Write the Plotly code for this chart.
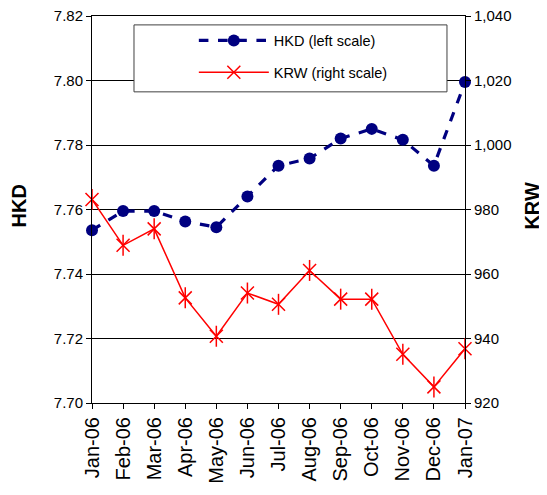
import plotly.graph_objects as go

months = ["Jan-06", "Feb-06", "Mar-06", "Apr-06", "May-06", "Jun-06", "Jul-06",
          "Aug-06", "Sep-06", "Oct-06", "Nov-06", "Dec-06", "Jan-07"]
hkd = [7.7536, 7.7595, 7.7595, 7.7563, 7.7545, 7.7640, 7.7736,
       7.7758, 7.7820, 7.7850, 7.7816, 7.7736, 7.7995]
krw = [983.1, 968.9, 974.0, 952.6, 940.7, 954.1, 950.6,
       961.1, 952.2, 952.2, 935.1, 925.0, 936.8]
hkd_ticks = [7.70, 7.72, 7.74, 7.76, 7.78, 7.80, 7.82]
krw_ticks = [920, 940, 960, 980, 1000, 1020, 1040]

xpos = list(range(len(months)))
FONT = "Liberation Sans, Arial, sans-serif"

fig = go.Figure()
fig.add_trace(go.Scatter(
    x=xpos, y=hkd, name="HKD (left scale)", mode="lines+markers",
    line=dict(color="#000080", width=3.2, dash="dash"),
    marker=dict(symbol="circle", size=12, color="#000080"),
    cliponaxis=False, legendgroup="a", yaxis="y"))
fig.add_trace(go.Scatter(
    x=xpos, y=krw, name="KRW (right scale)", mode="lines+markers",
    line=dict(color="#FF0000", width=1.5),
    marker=dict(symbol="x-thin-open", size=13, color="#FF0000",
                line=dict(color="#FF0000", width=1.5)),
    cliponaxis=False, legendgroup="b", yaxis="y2"))
fig.add_trace(go.Scatter(
    x=xpos, y=krw, mode="markers", showlegend=False,
    marker=dict(symbol="line-ns-open", size=15, color="#FF0000",
                line=dict(color="#FF0000", width=1.5)),
    cliponaxis=False, yaxis="y2", hoverinfo="skip"))

fig.update_layout(
    width=539, height=487,
    margin=dict(l=84, r=82, t=8, b=92, autoexpand=False),
    paper_bgcolor="white", plot_bgcolor="white",
    font=dict(family=FONT, color="black"),
    showlegend=True,
    xaxis=dict(range=[0, 12], tickvals=xpos, ticktext=months, tickangle=-90,
               tickfont=dict(size=20), showgrid=False, zeroline=False,
               showline=True, linecolor="black", linewidth=1, mirror=True,
               ticks="outside", ticklen=5, tickcolor="black", automargin=False,
               ticklabeloverflow="allow"),
    yaxis=dict(range=[7.70, 7.82], tickvals=hkd_ticks, tickformat=".2f",
               tickfont=dict(size=15), showgrid=True, gridcolor="black", gridwidth=1,
               zeroline=False, showline=True, linecolor="black", linewidth=1,
               ticks="outside", ticklen=5, tickcolor="black", automargin=False,
               ticklabeloverflow="allow"),
    yaxis2=dict(range=[920, 1040], tickvals=krw_ticks, tickformat=",d",
                tickfont=dict(size=15), overlaying="y", side="right",
                showgrid=False, zeroline=False, showline=True, linecolor="black",
                linewidth=1, ticks="outside", ticklen=5, tickcolor="black",
                automargin=False, ticklabeloverflow="allow"),
    legend=dict(x=0.273, y=0.978, xanchor="left", yanchor="top",
                bgcolor="rgba(0,0,0,0)", borderwidth=0,
                font=dict(size=14.5, family=FONT), itemwidth=70,
                tracegroupgap=10, traceorder="grouped"),
    shapes=[dict(type="rect", xref="paper", yref="paper",
                 x0=0.1126, x1=0.9517, y0=0.804, y1=0.977,
                 line=dict(color="#404040", width=1), fillcolor="white", layer="above")],
    annotations=[
        dict(text="<b>HKD</b>", xref="paper", yref="paper", x=-0.1957, y=0.508,
             xanchor="center", yanchor="middle", textangle=-90, showarrow=False,
             font=dict(size=20, family=FONT)),
        dict(text="<b>KRW</b>", xref="paper", yref="paper", x=1.1796, y=0.51,
             xanchor="center", yanchor="middle", textangle=-90, showarrow=False,
             font=dict(size=20, family=FONT)),
    ],
)

fig.write_html("out.html")
